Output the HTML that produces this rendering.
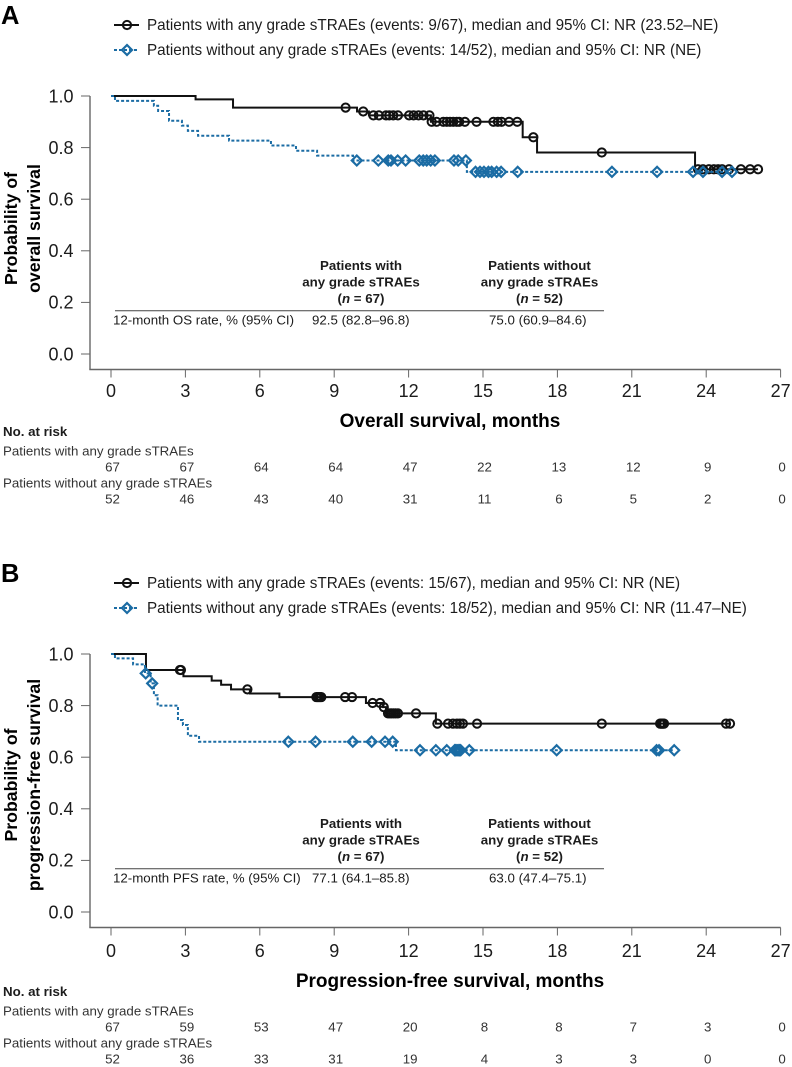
<!DOCTYPE html>
<html lang="en">
<head>
<meta charset="utf-8">
<title>Kaplan-Meier survival curves by sTRAE status</title>
<style>
  html, body { margin: 0; padding: 0; background: #fff; }
  svg { display: block; font-family: "Liberation Sans", sans-serif; }
</style>
</head>
<body>
<svg id="figure" xmlns="http://www.w3.org/2000/svg" width="792" height="1067" viewBox="0 0 792 1067"></svg>
<script>
// ---- Shared axis labels ----
const monthTicks = [0, 3, 6, 9, 12, 15, 18, 21, 24, 27];
const probTicks = [0, 0.2, 0.4, 0.6, 0.8, 1.0];

// ---- Panel A: overall survival ----
const osWithTimes = [0, 3.41, 4.92, 9.92, 10.4, 12.9, 16.6, 17.18, 23.55, 26.09];
const osWithSurv = [1, 0.987, 0.955, 0.94, 0.925, 0.90, 0.84, 0.781, 0.716, 0.716];
const osWithCensor = [9.46, 10.17, 10.58, 10.8, 11.09, 11.22, 11.38, 11.57, 12.02, 12.2, 12.4, 12.6, 12.84, 12.93, 13.13, 13.4, 13.54, 13.67, 13.8, 13.94, 14.04, 14.27, 14.74, 15.42, 15.6, 15.75, 16.05, 16.38, 17.03, 19.79, 23.67, 23.87, 24.11, 24.31, 24.48, 24.64, 24.92, 25.4, 25.77, 26.09];
const osWithoutTimes = [0, 0.16, 1.73, 1.9, 2.34, 2.86, 3.1, 3.51, 4.76, 6.45, 7.46, 8.31, 9.76, 14.35, 25.04];
const osWithoutSurv = [1, 0.981, 0.962, 0.942, 0.904, 0.885, 0.865, 0.846, 0.827, 0.808, 0.788, 0.769, 0.75, 0.706, 0.706];
const osWithoutCensor = [9.91, 10.78, 11.18, 11.29, 11.56, 11.88, 12.43, 12.59, 12.73, 12.89, 13.06, 13.83, 14.0, 14.31, 14.7, 14.88, 15.04, 15.22, 15.35, 15.55, 15.73, 16.4, 20.2, 22.02, 23.47, 23.87, 24.64, 25.04];
const osRiskWith = [67, 67, 64, 64, 47, 22, 13, 12, 9, 0];
const osRiskWithout = [52, 46, 43, 40, 31, 11, 6, 5, 2, 0];

// ---- Panel B: progression-free survival ----
const pfsWithTimes = [0, 1.41, 2.92, 4.06, 4.44, 4.84, 5.6, 6.79, 10.28, 10.97, 11.09, 13.1, 24.96];
const pfsWithSurv = [1, 0.938, 0.914, 0.897, 0.881, 0.863, 0.847, 0.833, 0.81, 0.794, 0.77, 0.73, 0.73];
const pfsWithCensor = [2.78, 2.82, 5.5, 8.28, 8.33, 8.38, 8.43, 8.48, 9.44, 9.72, 10.55, 10.85, 11.0, 11.17, 11.25, 11.32, 11.4, 11.48, 11.57, 12.3, 13.16, 13.59, 13.79, 13.95, 14.07, 14.19, 14.76, 19.79, 22.14, 22.18, 22.22, 22.26, 22.3, 24.8, 24.96];
const pfsWithoutTimes = [0, 0.16, 0.89, 1.37, 1.6, 1.73, 1.88, 2.7, 2.9, 3.1, 3.55, 11.49, 22.71];
const pfsWithoutSurv = [1, 0.983, 0.96, 0.925, 0.886, 0.84, 0.80, 0.744, 0.725, 0.683, 0.66, 0.627, 0.627];
const pfsWithoutCensor = [1.4, 1.66, 7.15, 8.25, 9.75, 10.51, 11.05, 11.36, 12.46, 13.1, 13.54, 13.86, 13.9, 13.95, 14.0, 14.05, 14.1, 14.45, 17.97, 22.0, 22.1, 22.71];
const pfsRiskWith = [67, 59, 53, 47, 20, 8, 8, 7, 3, 0];
const pfsRiskWithout = [52, 36, 33, 31, 19, 4, 3, 3, 0, 0];

const NS = 'http://www.w3.org/2000/svg';
const BLACK = '#111111';
const BLUE = '#1b6ca4';
const GREY = '#666666';
const TEXT = '#1c1c1c';
const figure = document.getElementById('figure');

function mk(parent, tag, attrs, content) {
  const el = document.createElementNS(NS, tag);
  for (const k in attrs) el.setAttribute(k, attrs[k]);
  if (content !== undefined) el.textContent = content;
  parent.appendChild(el);
  return el;
}
function xScale(t) { return 111 + t * 24.8; }
function label(parent, x, y, str, size, opts) {
  return mk(parent, 'text', Object.assign({ x: x, y: y, 'font-size': size, fill: TEXT }, opts || {}), str);
}
function survivalAt(times, surv, t) {
  let s = surv[0];
  for (let i = 0; i < times.length; i++) { if (times[i] <= t) s = surv[i]; }
  return s;
}
function stepPath(times, surv, yScale) {
  let d = 'M' + xScale(times[0]) + ' ' + yScale(surv[0]);
  for (let i = 1; i < times.length; i++) {
    d += 'H' + xScale(times[i]).toFixed(2) + 'V' + yScale(surv[i]).toFixed(2);
  }
  return d;
}
function circleMark(parent, cx, cy) {
  const m = mk(parent, 'circle', { cx: cx, cy: cy, r: 4.1, fill: 'none', stroke: BLACK, 'stroke-width': 2 });
  
  
  return m;
}
function diamondMark(parent, cx, cy) {
  const r = 5;
  const pts = [[cx, cy - r], [cx + r, cy], [cx, cy + r], [cx - r, cy]].map(p => p.join(',')).join(' ');
  const m = mk(parent, 'polygon', { points: pts, fill: 'none', stroke: BLUE, 'stroke-width': 2.2 });
  
  
  return m;
}
function drawSeries(parent, times, surv, censor, yScale, color, dash, marker, name) {
  const g = mk(parent, 'g', {});
  
  
  const line = mk(g, 'path', { d: stepPath(times, surv, yScale), fill: 'none', stroke: color, 'stroke-width': 2 });
  if (dash) line.setAttribute('stroke-dasharray', dash);
  
  
  censor.forEach(t => marker(g, xScale(t), yScale(survivalAt(times, surv, t))));
}

function drawPanel(p) {
  const g = mk(figure, 'g', {});
  
  
  const yScale = v => p.y0 - v * 258;

  // Panel letter
  const letter = label(g, 1, p.letterY, p.letter, 25.5, { 'font-weight': 'bold', fill: '#000' });
  
  

  // Legend
  const legend = mk(g, 'g', {});
  
  
  mk(legend, 'line', { x1: 114, x2: 139, y1: p.legendY, y2: p.legendY, stroke: BLACK, 'stroke-width': 2 });
  circleMark(legend, 127, p.legendY);
  const l1 = label(legend, 147, p.legendY + 5, p.legend1, 15.25);
  
  
  mk(legend, 'line', { x1: 114, x2: 139, y1: p.legendY + 25, y2: p.legendY + 25, stroke: BLUE, 'stroke-width': 2, 'stroke-dasharray': '3 2' });
  diamondMark(legend, 127, p.legendY + 25);
  const l2 = label(legend, 147, p.legendY + 30, p.legend2, 15.25);
  
  

  // Axes
  const axisBottom = p.y0 + 15.5;
  const yAxis = mk(g, 'line', { x1: 90, x2: 90, y1: yScale(1), y2: axisBottom, stroke: GREY, 'stroke-width': 1.4 });
  
  
  const xAxis = mk(g, 'line', { x1: 89.3, x2: xScale(27), y1: axisBottom, y2: axisBottom, stroke: GREY, 'stroke-width': 1.4 });
  
  

  probTicks.forEach(v => {
    mk(g, 'line', { x1: 81, x2: 90, y1: yScale(v), y2: yScale(v), stroke: GREY, 'stroke-width': 1 });
    const t = label(g, 73.5, yScale(v) + 6.3, v.toFixed(1), 18, { 'text-anchor': 'end' });
    
    
  });
  monthTicks.forEach(m => {
    mk(g, 'line', { x1: xScale(m), x2: xScale(m), y1: axisBottom, y2: axisBottom + 8, stroke: GREY, 'stroke-width': 1 });
    const t = label(g, xScale(m), p.tickBase, String(m), 18, { 'text-anchor': 'middle' });
    
    
  });

  // Axis titles
  const cy = p.titleCenter;
  const yt1 = label(g, 0, 0, 'Probability of', 17.7, { 'font-weight': 'bold', 'text-anchor': 'middle', fill: '#000', transform: 'translate(17 ' + cy + ') rotate(-90)' });
  
  
  const yt2 = label(g, 0, 0, p.yTitle2, 17.7, { 'font-weight': 'bold', 'text-anchor': 'middle', fill: '#000', transform: 'translate(40 ' + cy + ') rotate(-90)' });
  
  
  const xt = label(g, 450, p.tickBase + 30, p.xTitle, 19, { 'font-weight': 'bold', 'text-anchor': 'middle', fill: '#000' });
  
  

  // Inset table
  const tb = mk(g, 'g', {});
  
  
  const hBase = p.y0 - 84;
  [[361, 'Patients with', 'any grade sTRAEs', '67'], [539.5, 'Patients without', 'any grade sTRAEs', '52']].forEach(h => {
    label(tb, h[0], hBase, h[1], 13.3, { 'font-weight': 'bold', 'text-anchor': 'middle' });
    label(tb, h[0], hBase + 16.5, h[2], 13.3, { 'font-weight': 'bold', 'text-anchor': 'middle' });
    const n = label(tb, h[0], hBase + 33, '(', 13.3, { 'font-weight': 'bold', 'text-anchor': 'middle' });
    const it = document.createElementNS(NS, 'tspan');
    it.setAttribute('font-style', 'italic');
    it.textContent = 'n';
    n.appendChild(it);
    n.appendChild(document.createTextNode(' = ' + h[3] + ')'));
  });
  mk(tb, 'line', { x1: 115, x2: 604, y1: p.y0 - 43.3, y2: p.y0 - 43.3, stroke: '#444', 'stroke-width': 1 });
  label(tb, 113, p.y0 - 29.5, p.rowLabel, 13.3);
  label(tb, 312, p.y0 - 29.5, p.rowVal1, 13.3);
  label(tb, 489, p.y0 - 29.5, p.rowVal2, 13.3);

  // Series
  drawSeries(g, p.withT, p.withS, p.withC, yScale, BLACK, null, circleMark, 'series-with-strae');
  drawSeries(g, p.woT, p.woS, p.woC, yScale, BLUE, '3 2', diamondMark, 'series-without-strae');

  // Number at risk
  const rk = mk(g, 'g', {});
  
  
  label(rk, 3, p.riskBase, 'No. at risk', 13.3, { 'font-weight': 'bold' });
  label(rk, 3, p.riskBase + 19.5, 'Patients with any grade sTRAEs', 13.3, { fill: '#333' });
  label(rk, 3, p.riskBase + 51.5, 'Patients without any grade sTRAEs', 13.3, { fill: '#333' });
  p.riskWith.forEach((v, i) => label(rk, xScale(monthTicks[i]) + 1.5, p.riskBase + 35.3, String(v), 13.3, { 'text-anchor': 'middle', fill: '#333' }));
  p.riskWithout.forEach((v, i) => label(rk, xScale(monthTicks[i]) + 1.5, p.riskBase + 67.3, String(v), 13.3, { 'text-anchor': 'middle', fill: '#333' }));
}

drawPanel({
  id: 'panel-a-overall-survival', letter: 'A', letterY: 24, legendY: 25, y0: 354, tickBase: 397, titleCenter: 228.5, riskBase: 436,
  legend1: 'Patients with any grade sTRAEs (events: 9/67), median and 95% CI: NR (23.52\u2013NE)',
  legend2: 'Patients without any grade sTRAEs (events: 14/52), median and 95% CI: NR (NE)',
  yTitle2: 'overall survival', xTitle: 'Overall survival, months',
  rowLabel: '12-month OS rate, % (95% CI)', rowVal1: '92.5 (82.8\u201396.8)', rowVal2: '75.0 (60.9\u201384.6)',
  withT: osWithTimes, withS: osWithSurv, withC: osWithCensor,
  woT: osWithoutTimes, woS: osWithoutSurv, woC: osWithoutCensor,
  riskWith: osRiskWith, riskWithout: osRiskWithout
});
drawPanel({
  id: 'panel-b-progression-free-survival', letter: 'B', letterY: 582, legendY: 583, y0: 912, tickBase: 957, titleCenter: 785, riskBase: 996,
  legend1: 'Patients with any grade sTRAEs (events: 15/67), median and 95% CI: NR (NE)',
  legend2: 'Patients without any grade sTRAEs (events: 18/52), median and 95% CI: NR (11.47\u2013NE)',
  yTitle2: 'progression-free survival', xTitle: 'Progression-free survival, months',
  rowLabel: '12-month PFS rate, % (95% CI)', rowVal1: '77.1 (64.1\u201385.8)', rowVal2: '63.0 (47.4\u201375.1)',
  withT: pfsWithTimes, withS: pfsWithSurv, withC: pfsWithCensor,
  woT: pfsWithoutTimes, woS: pfsWithoutSurv, woC: pfsWithoutCensor,
  riskWith: pfsRiskWith, riskWithout: pfsRiskWithout
});
</script>
</body>
</html>
